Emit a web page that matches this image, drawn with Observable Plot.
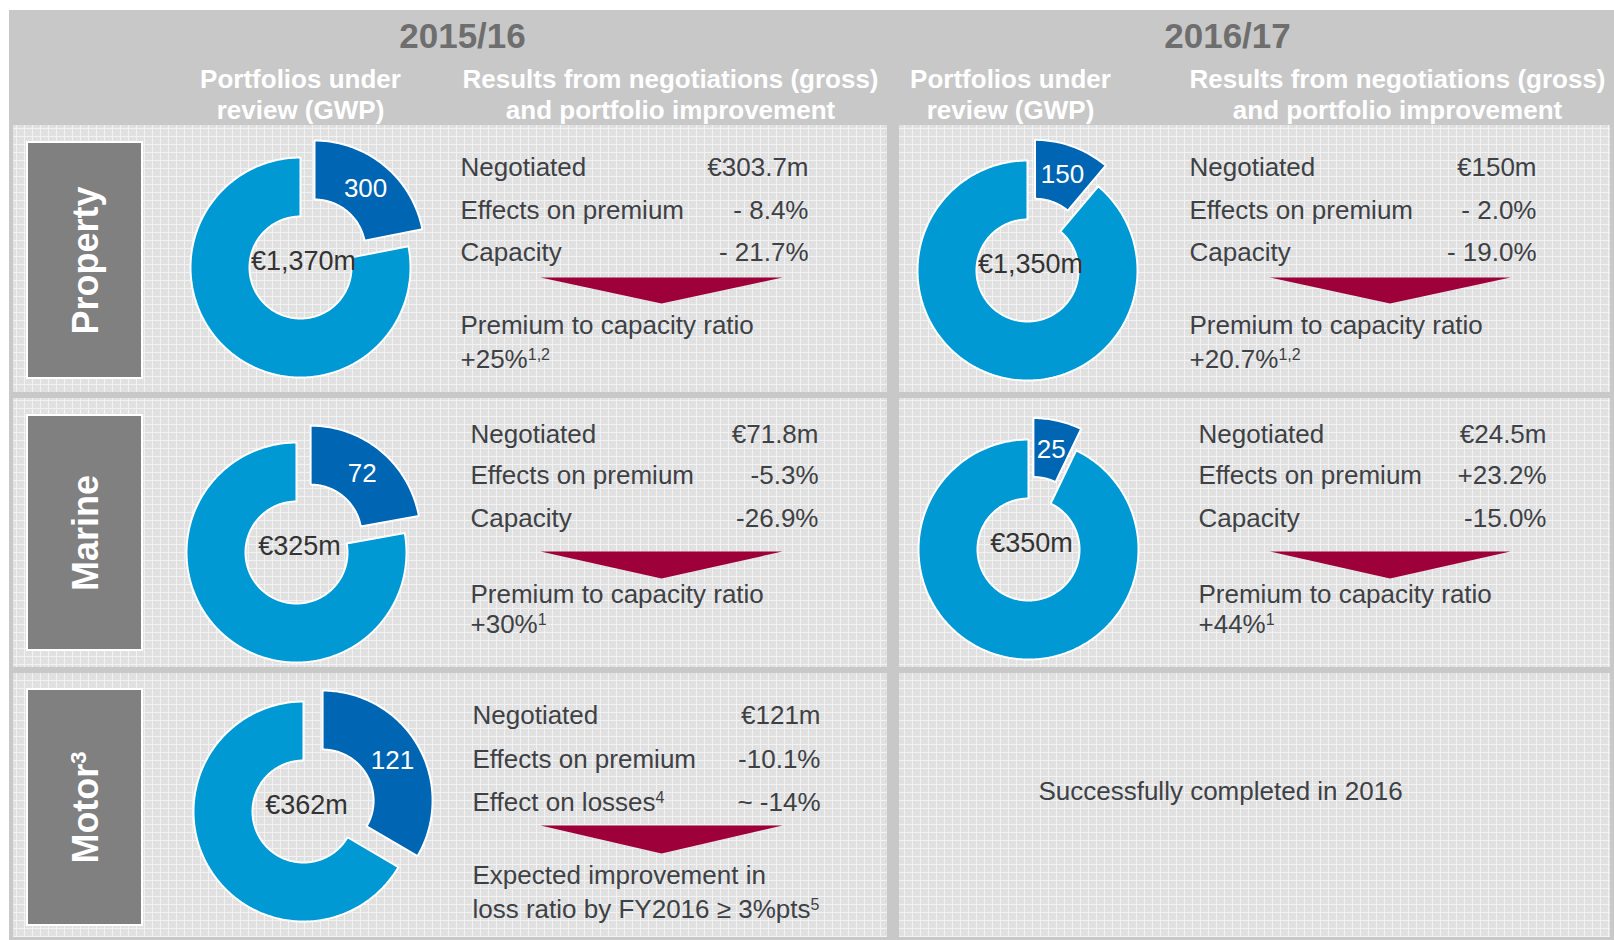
<!DOCTYPE html>
<html><head><meta charset="utf-8">
<script src="https://cdn.jsdelivr.net/npm/d3@7"></script>
<script src="https://cdn.jsdelivr.net/npm/@observablehq/plot@0.6"></script>
<style>body{margin:0;background:#fff} svg{display:block}</style>
</head><body><div id="chart"></div>
<script>
// ---------- DATA ----------
const years = ["2015/16", "2016/17"];
const colHeadLine1 = ["Portfolios under", "Results from negotiations (gross)"];
const colHeadLine2 = ["review (GWP)", "and portfolio improvement"];
const lineNames = ["Property", "Marine", "Motor^3"];
// GWP of portfolios under review (€m) and negotiated part
const gwp1516 = [1370, 325, 362];
const negotiated1516 = [300, 72, 121];
const gwp1617 = [1350, 350];
const negotiated1617 = [150, 25];
const totalLabels1516 = ["€1,370m", "€325m", "€362m"];
const totalLabels1617 = ["€1,350m", "€350m"];
// Results from negotiations
const metricLabels1516 = [["Negotiated", "Effects on premium", "Capacity"], ["Negotiated", "Effects on premium", "Capacity"], ["Negotiated", "Effects on premium", "Effect on losses^4"]];
const metricLabels1617 = [["Negotiated", "Effects on premium", "Capacity"], ["Negotiated", "Effects on premium", "Capacity"]];
const negValue1516 = ["€303.7m", "€71.8m", "€121m"];
const premium1516 = ["- 8.4%", "-5.3%", "-10.1%"];
const third1516 = ["- 21.7%", "-26.9%", "~ -14%"];
const negValue1617 = ["€150m", "€24.5m"];
const premium1617 = ["- 2.0%", "+23.2%"];
const third1617 = ["- 19.0%", "-15.0%"];
const result1516 = [["Premium to capacity ratio", "+25%^1,2"], ["Premium to capacity ratio", "+30%^1"], ["Expected improvement in", "loss ratio by FY2016 ≥ 3%pts^5"]];
const result1617 = [["Premium to capacity ratio", "+20.7%^1,2"], ["Premium to capacity ratio", "+44%^1"]];
const completedNote = "Successfully completed in 2016";

// ---------- LAYOUT ----------
const W = 1614, H = 940;
const colX = [[13, 887], [899, 1610]];
const rowY = [[125, 392], [398, 667], [673, 937]];
const boxX = [27, 142];
const boxY = [[142, 378], [415, 650], [689, 925]];
const donutC = [[[300, 267], [296, 552], [303, 811]], [[1027, 270], [1028, 549]]];
const R = 110, r0 = 51, explode = 22;
const textLeft = [[460, 470, 472], [1189, 1198]];
const textRight = [[808, 818, 820], [1536, 1546]];
const base = [[175, 218, 260, 277, 303, 333, 367], [442, 483, 526, 551, 578, 602, 632], [723, 767, 810, 825, 853, 883, 917]];
const triX = [[540, 782], [1269, 1510]];
const headX = [[300, 670], [1010, 1397]];
const yearX = [462, 1227];

const FONT = "Liberation Sans, Arial, Helvetica, sans-serif";
const TXT = "#3e4145";

// ---------- DERIVED GEOMETRY ----------
function slicePts(id, cx, cy, a0, a1, off) {
  const mid = (a0 + a1) / 2, ox = off * Math.sin(mid), oy = -off * Math.cos(mid);
  const n = Math.max(2, Math.ceil((a1 - a0) / (Math.PI / 180)));
  const pts = [];
  for (let i = 0; i <= n; i++) { const a = a0 + (a1 - a0) * i / n; pts.push({id, x: cx + ox + R * Math.sin(a), y: cy + oy - R * Math.cos(a)}); }
  for (let i = n; i >= 0; i--) { const a = a0 + (a1 - a0) * i / n; pts.push({id, x: cx + ox + r0 * Math.sin(a), y: cy + oy - r0 * Math.cos(a)}); }
  pts.push({...pts[0]});
  return pts;
}
const donuts = [];
gwp1516.forEach((t, i) => donuts.push({col: 0, row: i, total: t, neg: negotiated1516[i], label: totalLabels1516[i]}));
gwp1617.forEach((t, i) => donuts.push({col: 1, row: i, total: t, neg: negotiated1617[i], label: totalLabels1617[i]}));
const negPts = [], restPts = [], sliceLabels = [], centerLabels = [];
donuts.forEach((d, k) => {
  const [cx, cy] = donutC[d.col][d.row];
  const a = 2 * Math.PI * d.neg / d.total;
  negPts.push(...slicePts("n" + k, cx, cy, 0, a, explode));
  restPts.push(...slicePts("r" + k, cx, cy, a, 2 * Math.PI, 0));
  const rm = (R + r0) / 2 + explode;
  sliceLabels.push({x: cx + rm * Math.sin(a / 2), y: cy - rm * Math.cos(a / 2), text: String(d.neg)});
  centerLabels.push({x: cx + 3, y: cy - 6, text: d.label});
});

const panels = [];
colX.forEach(([x1, x2]) => rowY.forEach(([y1, y2]) => panels.push({x1, x2, y1, y2})));
const boxes = boxY.map(([y1, y2], i) => ({x1: boxX[0], x2: boxX[1], y1, y2, text: lineNames[i], y: (y1 + y2) / 2}));

const leftTexts = [], rightTexts = [], triPts = [];
function block(col, row, labels, vals, result) {
  const b = base[row];
  labels.forEach((l, i) => leftTexts.push({x: textLeft[col][row], y: b[i], text: l}));
  vals.forEach((v, i) => rightTexts.push({x: textRight[col][row], y: b[i], text: v}));
  result.forEach((l, i) => leftTexts.push({x: textLeft[col][row], y: b[5 + i], text: l}));
  const [xa, xb] = triX[col], id = "t" + col + row;
  triPts.push({id, x: xa, y: b[3]}, {id, x: xb, y: b[3]}, {id, x: (xa + xb) / 2, y: b[4]}, {id, x: xa, y: b[3]});
}
gwp1516.forEach((_, r) => block(0, r, metricLabels1516[r], [negValue1516[r], premium1516[r], third1516[r]], result1516[r]));
gwp1617.forEach((_, r) => block(1, r, metricLabels1617[r], [negValue1617[r], premium1617[r], third1617[r]], result1617[r]));

const yearTexts = years.map((t, i) => ({x: yearX[i], y: 47, text: t}));
const headTexts = [];
[0, 1].forEach(c => [0, 1].forEach(k => {
  headTexts.push({x: headX[c][k], y: 87, text: colHeadLine1[k]});
  headTexts.push({x: headX[c][k], y: 118, text: colHeadLine2[k]});
}));

// ---------- PLOT ----------
const chart = Plot.plot({
  width: W, height: H, margin: 0,
  x: {domain: [0, W], range: [0, W], axis: null},
  y: {domain: [0, H], range: [0, H], axis: null},
  style: {background: "white", fontFamily: FONT},
  marks: [
    Plot.rect([{x1: 9, x2: W, y1: 10, y2: H}], {x1: "x1", x2: "x2", y1: "y1", y2: "y2", fill: "#c8c8c8"}),
    Plot.rect(panels, {x1: "x1", x2: "x2", y1: "y1", y2: "y2", fill: "url(#gridtex)"}),
    Plot.rect(boxes, {x1: "x1", x2: "x2", y1: "y1", y2: "y2", fill: "#808080", stroke: "white", strokeWidth: 2}),
    Plot.text(boxes, {x: 97, y: "y", text: "text", rotate: -90, textAnchor: "middle", lineAnchor: "bottom", fontSize: 36, fontWeight: "bold", fill: "white", fontFamily: FONT}),
    Plot.text(yearTexts, {x: "x", y: "y", text: "text", textAnchor: "middle", lineAnchor: "bottom", fontSize: 35, fontWeight: "bold", fill: "#6e6e6e", fontFamily: FONT}),
    Plot.text(headTexts, {x: "x", y: "y", text: "text", textAnchor: "middle", lineAnchor: "bottom", fontSize: 26, fontWeight: "bold", fill: "white", fontFamily: FONT}),
    Plot.line(restPts, {x: "x", y: "y", z: "id", fill: "#0099d4", stroke: "white", strokeWidth: 2, strokeLinejoin: "miter", curve: "linear"}),
    Plot.line(negPts, {x: "x", y: "y", z: "id", fill: "#0066b3", stroke: "white", strokeWidth: 2, strokeLinejoin: "miter", curve: "linear"}),
    Plot.text(sliceLabels, {x: "x", y: "y", text: "text", textAnchor: "middle", lineAnchor: "middle", fontSize: 26, fill: "white", fontFamily: FONT}),
    Plot.text(centerLabels, {x: "x", y: "y", text: "text", textAnchor: "middle", lineAnchor: "middle", fontSize: 27, fill: "#333333", fontFamily: FONT}),
    Plot.line(triPts, {x: "x", y: "y", z: "id", fill: "#9e003a", stroke: "none", curve: "linear"}),
    Plot.text(leftTexts, {x: "x", y: "y", text: "text", textAnchor: "start", lineAnchor: "bottom", fontSize: 26, fill: TXT, fontFamily: FONT}),
    Plot.text(rightTexts, {x: "x", y: "y", text: "text", textAnchor: "end", lineAnchor: "bottom", fontSize: 26, fill: TXT, fontFamily: FONT}),
    Plot.text([{x: 1220, y: 799, text: completedNote}], {x: "x", y: "y", text: "text", textAnchor: "middle", lineAnchor: "bottom", fontSize: 26, fill: TXT, fontFamily: FONT})
  ]
});

// grid texture pattern for panels
const NS = "http://www.w3.org/2000/svg";
const defs = document.createElementNS(NS, "defs");
const pat = document.createElementNS(NS, "pattern");
pat.setAttribute("id", "gridtex"); pat.setAttribute("width", 8); pat.setAttribute("height", 8); pat.setAttribute("patternUnits", "userSpaceOnUse");
pat.innerHTML = '<rect width="8" height="8" fill="#e1e1e1"/><rect x="2" y="2" width="1" height="1" fill="#d6d6d6"/><rect x="5" y="5" width="1" height="1" fill="#d6d6d6"/><rect width="8" height="1" fill="#f2f2f2"/><rect width="1" height="8" fill="#f2f2f2"/>';
defs.appendChild(pat);
chart.insertBefore(defs, chart.firstChild);

// superscripts marked with ^
chart.querySelectorAll("text").forEach(t => {
  const s = t.textContent, i = s.indexOf("^");
  if (i < 0) return;
  const g = t.closest("g");
  const fs = parseFloat((g && g.getAttribute("font-size")) || 26);
  t.textContent = "";
  const a = document.createElementNS(NS, "tspan"); a.textContent = s.slice(0, i);
  const b = document.createElementNS(NS, "tspan"); b.textContent = s.slice(i + 1);
  b.setAttribute("font-size", Math.round(fs * 0.62));
  b.setAttribute("dy", -Math.round(fs * 0.32));
  t.appendChild(a); t.appendChild(b);
});

document.getElementById("chart").appendChild(chart);
</script>
</body></html>
